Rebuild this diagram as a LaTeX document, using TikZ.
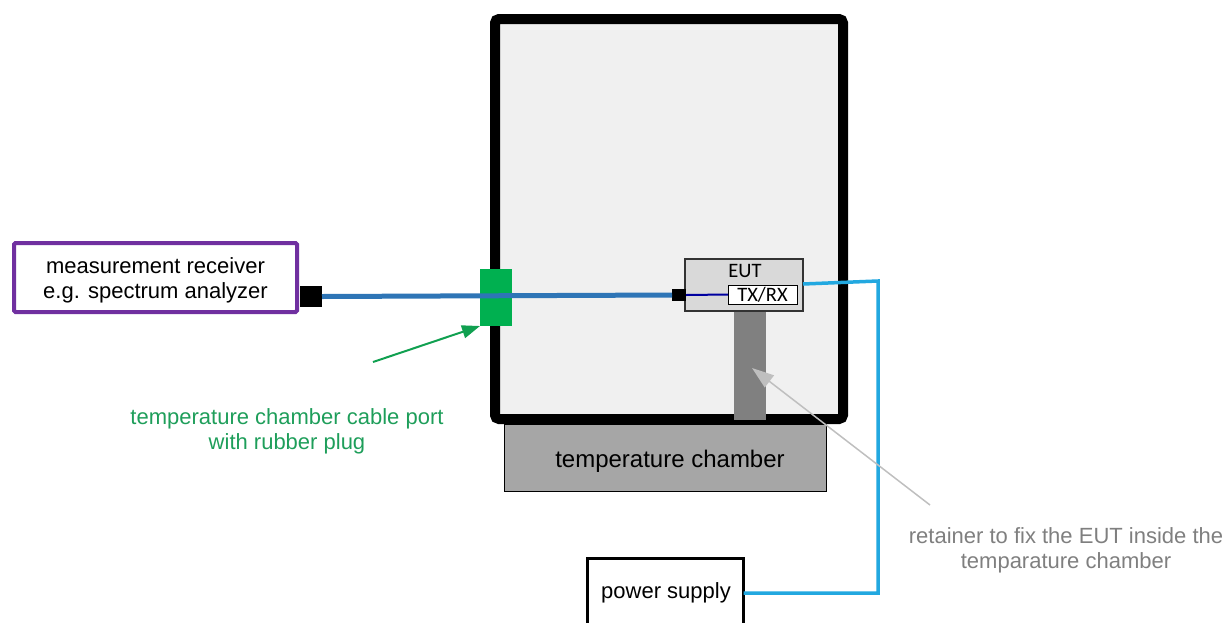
\documentclass[tikz,border=0pt]{standalone}
\usepackage{fontspec}
\setmainfont{Liberation Sans}
\newfontfamily\calib{Carlito}
\usetikzlibrary{arrows.meta}
\definecolor{purp}{HTML}{7030A0}
\definecolor{chamberfill}{HTML}{F0F0F0}
\definecolor{basefill}{HTML}{A6A6A6}
\definecolor{retfill}{HTML}{808080}
\definecolor{eutfill}{HTML}{D9D9D9}
\definecolor{plug}{HTML}{00B050}
\definecolor{cableblue}{HTML}{2E75B6}
\definecolor{darkblue}{HTML}{0000A0}
\definecolor{lightblue}{HTML}{22A8E0}
\definecolor{textgreen}{HTML}{1E9E5A}
\definecolor{arrowgreen}{HTML}{10A050}
\definecolor{textgray}{HTML}{7F7F7F}
\definecolor{arrowgray}{HTML}{BFBFBF}
\tikzset{
  box/.style={draw, inner sep=0pt, outer sep=0pt},
  lbl/.style={font=\fontsize{22}{25}\selectfont, align=center, inner sep=0pt},
  conn/.style={fill=black, inner sep=0pt, outer sep=0pt},
}
\begin{document}
\begin{tikzpicture}[x=1pt,y=-1pt]
\useasboundingbox (0,0) rectangle (1227,622);
\clip (0,0) rectangle (1227,622);
% base
\node[box, fill=basefill, line width=1.5pt, minimum width=322pt, minimum height=67pt] (base) at (665.5,458) {};
\node[lbl, font=\fontsize{24}{28}\selectfont] (basetxt) at (670,461) {temperature chamber};
% chamber
\node[box, fill=chamberfill, line width=10pt, rounded corners=4pt, minimum width=348pt, minimum height=400pt] (chamber) at (669,219) {};
% retainer
\node[box, draw=none, fill=retfill, minimum width=32pt, minimum height=108pt] (ret) at (750,366) {};
% EUT
\node[box, fill=eutfill, draw=black!80, line width=1.2pt, minimum width=118pt, minimum height=52pt] (eut) at (744,285) {};
\node[inner sep=0pt, font=\calib\fontsize{20.5}{22}\selectfont] (euttxt) at (745,271) {EUT};
\node[box, fill=white, line width=1pt, minimum width=69pt, minimum height=19pt, font=\calib\fontsize{20.5}{22}\selectfont] (txrx) at (762.5,294.5) {TX/RX};
% receiver
\node[box, draw=purp, line width=4pt, rounded corners=1.5pt, minimum width=283pt, minimum height=69pt] (rec) at (155.5,277.5) {};
\node[lbl] (rectxt) at (155.5,280) {measurement receiver\\e.g. spectrum analyzer};
% connectors
\node[conn, minimum width=22pt, minimum height=21pt] (c1) at (311,296.5) {};
\node[conn, minimum width=14pt, minimum height=12pt] (c2) at (679,295) {};
% plug
\node[box, draw=none, fill=plug, minimum width=32pt, minimum height=57pt] (plug) at (496,297.5) {};
% cables
\draw[cableblue, line width=5pt] (c1.east) -- (c2.west);
\draw[darkblue, line width=2pt] (c2.east) -- (txrx.west);
% power supply
\node[box, line width=3pt, minimum width=156pt, minimum height=80pt, anchor=north west] (ps) at (587.5,558.5) {};
\node[lbl] (pstxt) at (666,593) {power supply};
\coordinate (pse) at (743.5,593);
\coordinate (eute) at (803,284);
\draw[lightblue, line width=3.5pt] (eute) -- (878,281) -- (878,593) -- (pse);
% annotations
\node[lbl, text=textgreen] (greentxt) at (287,431) {temperature chamber cable port\\with rubber plug};
\coordinate (ga) at (373,362);
\draw[arrowgreen, line width=2pt, -{Triangle[length=18pt,width=13pt]}] (ga) -- (plug.south west);
\node[lbl, text=textgray] (graytxt) at (1066,550) {retainer to fix the EUT inside the\\temparature chamber};
\coordinate (gra) at (930,505);
\draw[arrowgray, line width=1.5pt, -{Triangle[length=22pt,width=15pt]}] (gra) -- (752,368);
\end{tikzpicture}
\end{document}
